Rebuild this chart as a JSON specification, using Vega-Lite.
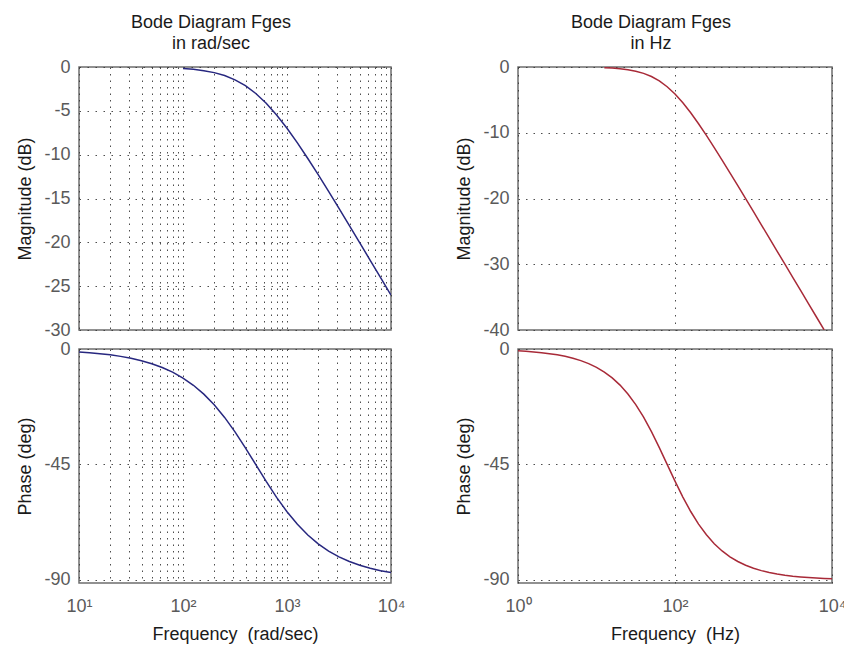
{
  "$schema": "https://vega.github.io/schema/vega-lite/v6.json",
  "padding": {"left": 16, "top": 14, "right": 8, "bottom": 4},
  "config": {
    "font": "Liberation Sans",
    "background": "white",
    "view": {"stroke": "#6e6e6e", "strokeWidth": 1.5},
    "axis": {
      "labelFont": "Liberation Sans", "labelFontSize": 18, "labelColor": "#5a5a5a",
      "titleFont": "Liberation Sans", "titleFontSize": 18, "titleFontWeight": "normal", "titleColor": "#1a1a1a",
      "grid": true, "gridColor": "#3a3a3a", "gridDash": [1.5, 6], "gridWidth": 1, "gridOpacity": 0.9,
      "domain": false, "ticks": false, "labelPadding": 9, "titlePadding": 9,
      "labelFlush": false, "labelOverlap": false
    },
    "title": {"font": "Liberation Sans", "fontSize": 18, "fontWeight": "normal", "color": "#1a1a1a", "anchor": "middle", "offset": 4, "lineHeight": 21}
  },
  "datasets": {
    "radsec": [
      {"w": 10, "mag": -0.0017, "phase": -1.146},
      {"w": 12.59, "mag": -0.0028, "phase": -1.442},
      {"w": 15.85, "mag": -0.0044, "phase": -1.815},
      {"w": 19.95, "mag": -0.0069, "phase": -2.285},
      {"w": 25.12, "mag": -0.0109, "phase": -2.876},
      {"w": 31.62, "mag": -0.0173, "phase": -3.619},
      {"w": 39.81, "mag": -0.0274, "phase": -4.552},
      {"w": 50.12, "mag": -0.0434, "phase": -5.724},
      {"w": 63.1, "mag": -0.0686, "phase": -7.193},
      {"w": 79.43, "mag": -0.1082, "phase": -9.026},
      {"w": 100, "mag": -0.1703, "phase": -11.31},
      {"w": 125.9, "mag": -0.2671, "phase": -14.134},
      {"w": 158.5, "mag": -0.4159, "phase": -17.589},
      {"w": 199.5, "mag": -0.6418, "phase": -21.76},
      {"w": 251.2, "mag": -0.9774, "phase": -26.67},
      {"w": 316.2, "mag": -1.4613, "phase": -32.31},
      {"w": 398.1, "mag": -2.1325, "phase": -38.53},
      {"w": 501.2, "mag": -3.0207, "phase": -45.07},
      {"w": 631, "mag": -4.1374, "phase": -51.62},
      {"w": 794.3, "mag": -5.4701, "phase": -57.81},
      {"w": 1000, "mag": -6.9897, "phase": -63.43},
      {"w": 1259, "mag": -8.657, "phase": -68.34},
      {"w": 1585, "mag": -10.4335, "phase": -72.49},
      {"w": 1995, "mag": -12.2843, "phase": -75.93},
      {"w": 2512, "mag": -14.1896, "phase": -78.74},
      {"w": 3162, "mag": -16.1269, "phase": -81.01},
      {"w": 3981, "mag": -18.0886, "phase": -82.84},
      {"w": 5012, "mag": -20.0643, "phase": -84.3},
      {"w": 6310, "mag": -22.0483, "phase": -85.47},
      {"w": 7943, "mag": -24.0373, "phase": -86.4},
      {"w": 10000, "mag": -26.0314, "phase": -87.14}
    ],
    "hz": [
      {"f": 1, "mag": -0.0007, "phase": -0.72},
      {"f": 1.259, "mag": -0.0011, "phase": -0.906},
      {"f": 1.585, "mag": -0.0017, "phase": -1.141},
      {"f": 1.995, "mag": -0.0027, "phase": -1.436},
      {"f": 2.512, "mag": -0.0043, "phase": -1.808},
      {"f": 3.162, "mag": -0.0069, "phase": -2.276},
      {"f": 3.981, "mag": -0.0109, "phase": -2.864},
      {"f": 5.012, "mag": -0.0172, "phase": -3.604},
      {"f": 6.31, "mag": -0.0272, "phase": -4.534},
      {"f": 7.943, "mag": -0.043, "phase": -5.7},
      {"f": 10, "mag": -0.068, "phase": -7.162},
      {"f": 12.59, "mag": -0.1074, "phase": -8.991},
      {"f": 15.85, "mag": -0.1689, "phase": -11.26},
      {"f": 19.95, "mag": -0.2648, "phase": -14.08},
      {"f": 25.12, "mag": -0.4124, "phase": -17.52},
      {"f": 31.62, "mag": -0.6367, "phase": -21.67},
      {"f": 39.81, "mag": -0.9702, "phase": -26.58},
      {"f": 50.12, "mag": -1.4509, "phase": -32.2},
      {"f": 63.1, "mag": -2.1186, "phase": -38.41},
      {"f": 79.43, "mag": -3.002, "phase": -44.95},
      {"f": 100, "mag": -4.1145, "phase": -51.49},
      {"f": 125.9, "mag": -5.4446, "phase": -57.71},
      {"f": 158.5, "mag": -6.9609, "phase": -63.34},
      {"f": 199.5, "mag": -8.6255, "phase": -68.25},
      {"f": 251.2, "mag": -10.4, "phase": -72.42},
      {"f": 316.2, "mag": -12.25, "phase": -75.88},
      {"f": 398.1, "mag": -14.154, "phase": -78.7},
      {"f": 501.2, "mag": -16.092, "phase": -80.98},
      {"f": 631, "mag": -18.054, "phase": -82.81},
      {"f": 794.3, "mag": -20.027, "phase": -84.28},
      {"f": 1000, "mag": -22.011, "phase": -85.45},
      {"f": 1259, "mag": -24.002, "phase": -86.38},
      {"f": 1585, "mag": -25.996, "phase": -87.13},
      {"f": 1995, "mag": -27.991, "phase": -87.72},
      {"f": 2512, "mag": -29.989, "phase": -88.19},
      {"f": 3162, "mag": -31.986, "phase": -88.56},
      {"f": 3981, "mag": -33.986, "phase": -88.85},
      {"f": 5012, "mag": -35.985, "phase": -89.09},
      {"f": 6310, "mag": -37.985, "phase": -89.28},
      {"f": 7943, "mag": -39.984, "phase": -89.43},
      {"f": 10000, "mag": -41.98, "phase": -89.54}
    ]
  },
  "spacing": 49,
  "hconcat": [
    {
      "title": {"text": ["Bode Diagram Fges", "in rad/sec"]},
      "bounds": "flush",
      "spacing": 19,
      "vconcat": [
        {
          "width": 312, "height": 263,
          "data": {"name": "radsec"},
          "transform": [{"filter": "datum.w >= 100"}],
          "mark": {"type": "line", "color": "#27277f", "strokeWidth": 1.5, "clip": true},
          "encoding": {
            "x": {"field": "w", "type": "quantitative", "scale": {"type": "log", "domain": [10, 10000], "nice": false},
                  "axis": {"title": null, "labels": false, "values": [10,20,30,40,50,60,70,80,90,100,200,300,400,500,600,700,800,900,1000,2000,3000,4000,5000,6000,7000,8000,9000,10000], "gridDash": [1.5, 5]}},
            "y": {"field": "mag", "type": "quantitative", "scale": {"domain": [-30, 0], "nice": false, "zero": false},
                  "axis": {"title": "Magnitude (dB)", "values": [0, -5, -10, -15, -20, -25, -30], "gridDash": [1.5, 6.5], "labelExpr": "replace(datum.label, '−', '-')"}}
          }
        },
        {
          "width": 312, "height": 234,
          "data": {"name": "radsec"},
          "mark": {"type": "line", "color": "#27277f", "strokeWidth": 1.5, "clip": true},
          "encoding": {
            "x": {"field": "w", "type": "quantitative", "scale": {"type": "log", "domain": [10, 10000], "nice": false},
                  "axis": {"title": "Frequency\u00a0\u00a0(rad/sec)", "values": [10,20,30,40,50,60,70,80,90,100,200,300,400,500,600,700,800,900,1000,2000,3000,4000,5000,6000,7000,8000,9000,10000], "gridDash": [1.5, 5],
                           "labelExpr": "datum.value == 10 ? '10¹' : datum.value == 100 ? '10²' : datum.value == 1000 ? '10³' : datum.value == 10000 ? '10⁴' : ''",
                           "labelPadding": 14, "titlePadding": 10}},
            "y": {"field": "phase", "type": "quantitative", "scale": {"domain": [-91.2, 0], "nice": false, "zero": false},
                  "axis": {"title": "Phase (deg)", "values": [0, -45, -90], "gridDash": [1.5, 6.5], "labelExpr": "replace(datum.label, '−', '-')"}}
          }
        }
      ]
    },
    {
      "title": {"text": ["Bode Diagram Fges", "in Hz"]},
      "bounds": "flush",
      "spacing": 19,
      "vconcat": [
        {
          "width": 314, "height": 263,
          "data": {"name": "hz"},
          "transform": [{"filter": "datum.f >= 12 && datum.f <= 8000"}],
          "mark": {"type": "line", "color": "#a82a38", "strokeWidth": 1.5, "clip": true},
          "encoding": {
            "x": {"field": "f", "type": "quantitative", "scale": {"type": "log", "domain": [1, 10000], "nice": false},
                  "axis": {"title": null, "labels": false, "values": [1, 100, 10000]}},
            "y": {"field": "mag", "type": "quantitative", "scale": {"domain": [-40, 0], "nice": false, "zero": false},
                  "axis": {"title": "Magnitude (dB)", "values": [0, -10, -20, -30, -40], "labelExpr": "replace(datum.label, '−', '-')"}}
          }
        },
        {
          "width": 314, "height": 234,
          "data": {"name": "hz"},
          "mark": {"type": "line", "color": "#a82a38", "strokeWidth": 1.5, "clip": true},
          "encoding": {
            "x": {"field": "f", "type": "quantitative", "scale": {"type": "log", "domain": [1, 10000], "nice": false},
                  "axis": {"title": "Frequency\u00a0\u00a0(Hz)", "values": [1, 100, 10000],
                           "labelExpr": "datum.value == 1 ? '10⁰' : datum.value == 100 ? '10²' : datum.value == 10000 ? '10⁴' : ''",
                           "labelPadding": 14, "titlePadding": 10}},
            "y": {"field": "phase", "type": "quantitative", "scale": {"domain": [-91.2, 0], "nice": false, "zero": false},
                  "axis": {"title": "Phase (deg)", "values": [0, -45, -90], "labelExpr": "replace(datum.label, '−', '-')"}}
          }
        }
      ]
    }
  ]
}
